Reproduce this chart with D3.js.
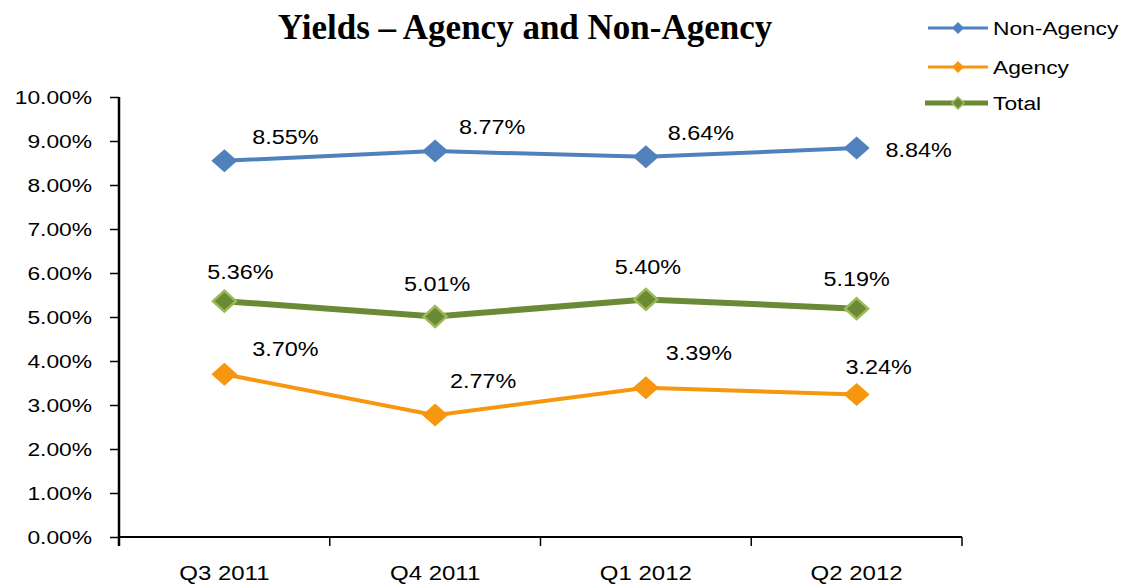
<!DOCTYPE html>
<html>
<head>
<meta charset="utf-8">
<script src="https://cdn.jsdelivr.net/npm/d3@7"></script>
<style>
  body { margin: 0; background: #fff; }
  text { fill: #000; }
</style>
</head>
<body>
<div id="chart-area"></div>
<script>
// data
var quarters = ["Q3 2011", "Q4 2011", "Q1 2012", "Q2 2012"];
var nonAgency = [8.55, 8.77, 8.64, 8.84];
var agency = [3.70, 2.77, 3.39, 3.24];
var total = [5.36, 5.01, 5.40, 5.19];
var yTicks = [0, 1, 2, 3, 4, 5, 6, 7, 8, 9, 10];
var seriesNames = ["Non-Agency", "Agency", "Total"];

// label offsets (dx, dy) relative to the point
var offNon = [[61, -24], [57, -24], [55, -24], [62, 2]];
var offAgency = [[61, -25], [48, -34], [53, -35], [22, -27]];
var offTotal = [[16, -29], [2, -33], [2, -32], [0, -30]];

var W = 1122, H = 584;
var margin = {left: 119, right: 160, top: 97, bottom: 47};
var width = 962 - margin.left;
var height = 537 - margin.top;
var stretch = 1.2;
var sans = "Liberation Sans, Arial, sans-serif";

var svg = d3.select("#chart-area")
	.append("svg")
		.attr("width", W)
		.attr("height", H);

// stretched text helper
function label(parent, x, y, str, size, anchor) {
	return parent.append("text")
		.attr("transform", "translate(" + x + "," + y + ") scale(" + stretch + ",1)")
		.attr("text-anchor", anchor || "middle")
		.style("font-family", sans)
		.style("font-size", size + "px")
		.text(str);
}

svg.append("text")
	.attr("x", 525)
	.attr("y", 39)
	.attr("text-anchor", "middle")
	.style("font-family", "'Liberation Serif', 'Times New Roman', serif")
	.style("font-weight", "bold")
	.style("font-size", "35px")
	.text("Yields \u2013 Agency and Non-Agency");

var g = svg.append("g")
	.attr("transform", "translate(" + margin.left + "," + margin.top + ")");

var x = d3.scaleBand()
	.domain(quarters)
	.range([0, width]);

var y = d3.scaleLinear()
	.domain([0, 10])
	.range([height, 0]);

// y axis
var yAxisCall = d3.axisLeft(y)
	.tickValues(yTicks)
	.tickSize(9)
	.tickFormat(function(d){ return d.toFixed(2) + "%"; });
var yAxis = g.append("g")
	.attr("class", "y axis")
	.call(yAxisCall);
yAxis.select(".domain").remove();
yAxis.selectAll("line").attr("stroke", "#000").attr("stroke-width", 1.5);
yAxis.selectAll("text")
	.style("font-size", "19px")
	.style("font-family", sans)
	.attr("x", null)
	.attr("transform", "translate(-27,0) scale(" + stretch + ",1)");
g.append("line")
	.attr("x1", 0).attr("x2", 0)
	.attr("y1", 0).attr("y2", height + 9)
	.attr("stroke", "#000").attr("stroke-width", 2.5);

// x axis
g.append("line")
	.attr("x1", 0).attr("x2", width)
	.attr("y1", height).attr("y2", height)
	.attr("stroke", "#000").attr("stroke-width", 2);
var bounds = quarters.map(function(q){ return x(q); }).concat([width]);
g.selectAll(".xtick")
	.data(bounds)
	.enter().append("line")
		.attr("class", "xtick")
		.attr("x1", function(d){ return d; })
		.attr("x2", function(d){ return d; })
		.attr("y1", height)
		.attr("y2", height + 9)
		.attr("stroke", "#000")
		.attr("stroke-width", 1.5);
quarters.forEach(function(q){
	label(g, x(q) + x.bandwidth() / 2, height + 43, q, 20);
});

var cx = function(d, i){ return x(quarters[i]) + x.bandwidth() / 2; };

var series = [
	{name: "Non-Agency", values: nonAgency, color: "#4f81bd", width: 4, fill: "#4f81bd", edge: "#4f81bd", off: offNon},
	{name: "Agency", values: agency, color: "#f7960f", width: 4, fill: "#f7960f", edge: "#f7960f", off: offAgency},
	{name: "Total", values: total, color: "#6b8a35", width: 6, fill: "#6b8a35", edge: "#9bbb59", off: offTotal}
];

function diamond(w, h) {
	return "M0," + (-h) + "L" + w + ",0L0," + h + "L" + (-w) + ",0Z";
}

var line = d3.line()
	.x(cx)
	.y(function(d){ return y(d); });

series.forEach(function(s){
	g.append("path")
		.datum(s.values)
		.attr("d", line)
		.attr("fill", "none")
		.attr("stroke", s.color)
		.attr("stroke-width", s.width);

	g.selectAll(".pt-" + s.name)
		.data(s.values)
		.enter().append("path")
			.attr("transform", function(d, i){ return "translate(" + cx(d, i) + "," + y(d) + ")"; })
			.attr("d", s.name == "Total" ? diamond(11.5, 10.5) : diamond(13, 11.5))
			.attr("fill", s.fill)
			.attr("stroke", s.edge)
			.attr("stroke-width", s.name == "Total" ? 2.5 : 0);

	s.values.forEach(function(v, i){
		label(g, cx(v, i) + s.off[i][0], y(v) + s.off[i][1] + 7, v.toFixed(2) + "%", 19.5);
	});
});

// legend
var legend = svg.append("g");
var rows = [28, 67, 103];
series.forEach(function(s, i){
	var row = legend.append("g").attr("transform", "translate(0," + rows[i] + ")");
	row.append("line")
		.attr("x1", s.name == "Total" ? 925 : 928).attr("x2", 988)
		.attr("y1", 0).attr("y2", 0)
		.attr("stroke", s.color)
		.attr("stroke-width", s.name == "Total" ? 5 : 3);
	row.append("path")
		.attr("transform", "translate(958,0)")
		.attr("d", diamond(6, 6))
		.attr("fill", s.fill)
		.attr("stroke", s.edge)
		.attr("stroke-width", s.name == "Total" ? 1.5 : 0);
	label(row, 993, 7, seriesNames[i], 19, "start");
});
</script>
</body>
</html>
